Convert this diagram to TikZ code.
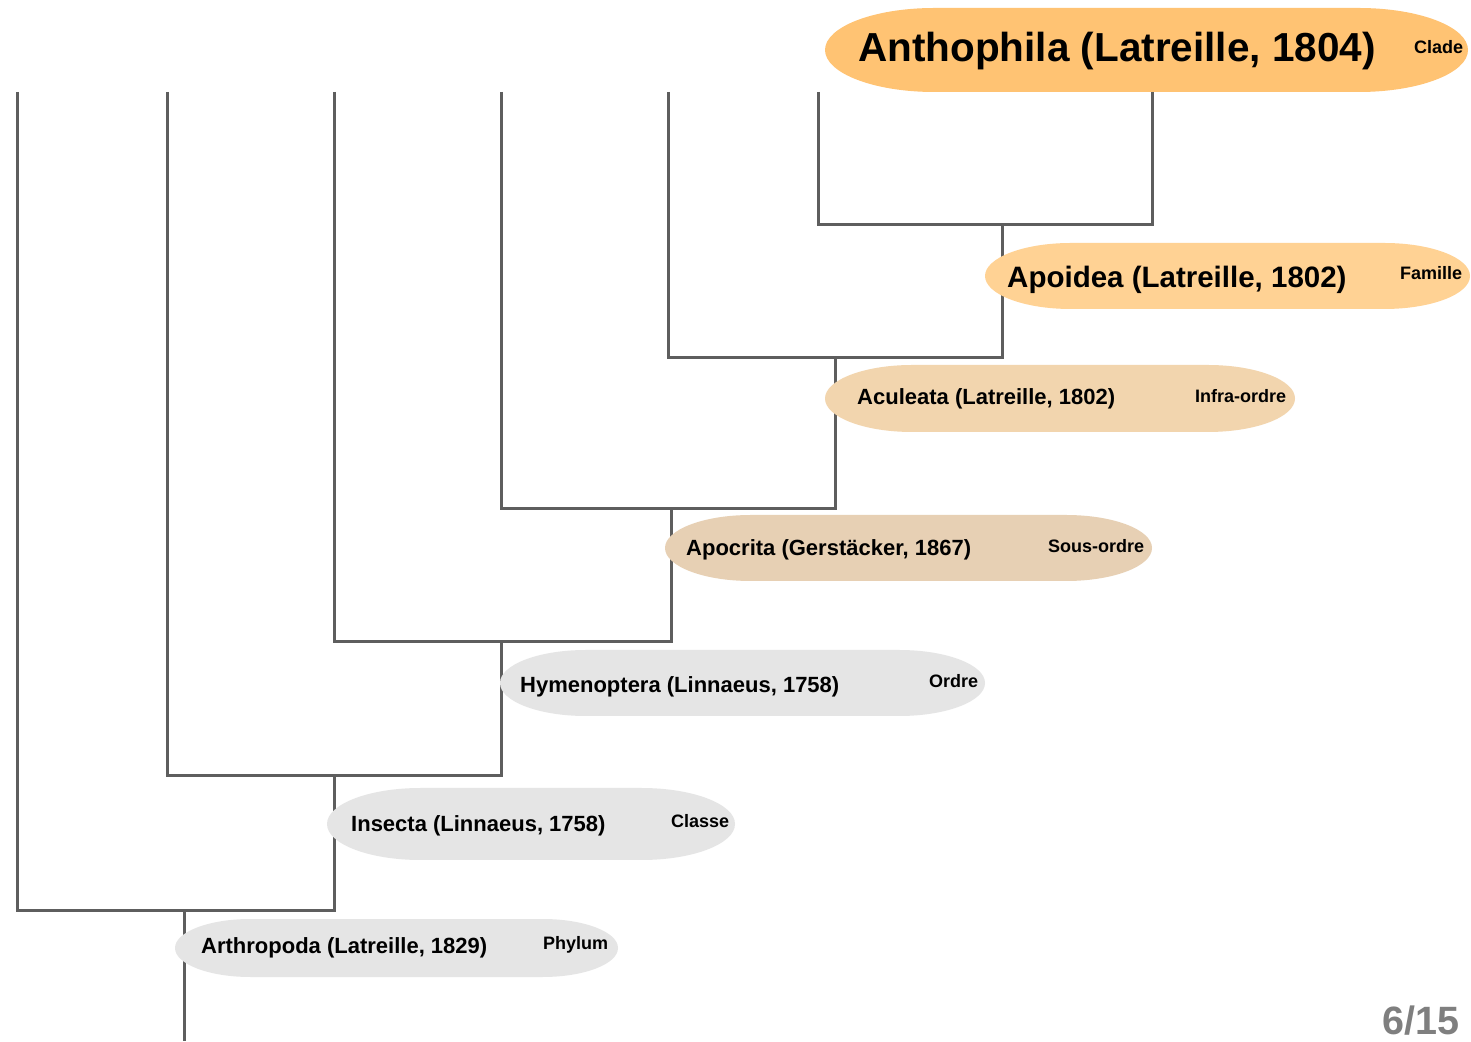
\documentclass[tikz,border=0pt]{standalone}
\usepackage{fontspec}
\setmainfont{Liberation Sans}
\usetikzlibrary{positioning}

\definecolor{cladeorange}{HTML}{FFC373}
\definecolor{familyorange}{HTML}{FFD294}
\definecolor{infrabeige}{HTML}{F2D5AE}
\definecolor{subbeige}{HTML}{E7D0B4}
\definecolor{rankgray}{HTML}{E5E5E5}
\definecolor{linegray}{HTML}{5E5E5E}
\definecolor{pagegray}{HTML}{7F7F7F}

\tikzset{
  branch/.style={draw=linegray, line width=3pt, line join=miter},
  taxon/.style={anchor=west, inner sep=0pt, font=\bfseries\fontsize{22}{26}\selectfont},
  rank/.style={anchor=west, inner sep=0pt, font=\bfseries\fontsize{18}{22}\selectfont},
}

% centre x, centre y, width, height, colour
\newcommand\pill[5]{%
  \fill[#5] (#1-#3/2+1.3*#4, #2+#4/2) -- (#1+#3/2-1.3*#4, #2+#4/2)
    arc[start angle=90, end angle=-90, x radius=1.3*#4, y radius=#4/2]
    -- (#1-#3/2+1.3*#4, #2-#4/2)
    arc[start angle=270, end angle=90, x radius=1.3*#4, y radius=#4/2] -- cycle;}

\begin{document}
\begin{tikzpicture}[x=1pt, y=1pt]
        \fill[white] (0,0) rectangle (1471,1041);
        \useasboundingbox (0,0) rectangle (1471,1041);

        % tips
        \coordinate (t1) at (17, 949);
        \coordinate (t2) at (167, 949);
        \coordinate (t3) at (334, 949);
        \coordinate (t4) at (501, 949);
        \coordinate (t5) at (668, 949);
        \coordinate (t6) at (818, 949);
        \coordinate (t7) at (1152, 949);
        % joints
        \coordinate (a1) at (818, 816);
        \coordinate (a2) at (1152, 816);
        \coordinate (a3) at (1002, 816);
        \coordinate (b1) at (668, 683);
        \coordinate (b2) at (1002, 683);
        \coordinate (b3) at (835, 683);
        \coordinate (c1) at (501, 532);
        \coordinate (c2) at (835, 532);
        \coordinate (c3) at (671, 532);
        \coordinate (d1) at (334, 399);
        \coordinate (d2) at (671, 399);
        \coordinate (d3) at (501, 399);
        \coordinate (e1) at (167, 265);
        \coordinate (e2) at (501, 265);
        \coordinate (e3) at (334, 265);
        \coordinate (f1) at (17, 131);
        \coordinate (f2) at (334, 131);
        \coordinate (f3) at (184, 131);
        \coordinate (root) at (184, 0);

        \path[branch]
        (t6) -- (a1) -- (a2) -- (t7)
        (t5) -- (b1) -- (b2) -- (a3)
        (t4) -- (c1) -- (c2) -- (b3)
        (t3) -- (d1) -- (d2) -- (c3)
        (t2) -- (e1) -- (e2) -- (d3)
        (t1) -- (f1) -- (f2) -- (e3)
        (f3) -- (root)
        ;

        \pill{1146.5}{991}{643}{84}{cladeorange}
        \pill{1227.5}{765}{485}{66}{familyorange}
        \pill{1060}{642.5}{470}{67}{infrabeige}
        \pill{908.5}{493}{487}{66}{subbeige}
        \pill{742.5}{358}{485}{66}{rankgray}
        \pill{531}{217}{408}{72}{rankgray}
        \pill{396.5}{93}{443}{58}{rankgray}

        \node[taxon, font=\bfseries\fontsize{40.5}{46}\selectfont] at (858, 990)(antho){Anthophila (Latreille, 1804)};
        \node[rank] at (1414, 994)(antho-rank){Clade};
        \node[taxon, font=\bfseries\fontsize{29.5}{34}\selectfont] at (1007, 761)(apoid){Apoidea (Latreille, 1802)};
        \node[rank] at (1400, 768)(apoid-rank){Famille};
        \node[taxon] at (857, 642.5)(acul){Aculeata (Latreille, 1802)};
        \node[rank] at (1195, 645)(acul-rank){Infra-ordre};
        \node[taxon] at (686, 491.5)(apoc){Apocrita (Gerstäcker, 1867)};
        \node[rank] at (1048, 495)(apoc-rank){Sous-ordre};
        \node[taxon] at (520, 354.5)(hymen){Hymenoptera (Linnaeus, 1758)};
        \node[rank] at (929, 360)(hymen-rank){Ordre};
        \node[taxon] at (351, 215.5)(insec){Insecta (Linnaeus, 1758)};
        \node[rank] at (671, 220)(insec-rank){Classe};
        \node[taxon] at (201, 93.5)(arthr){Arthropoda (Latreille, 1829)};
        \node[rank] at (543, 96)(arthr-rank){Phylum};

        \node[anchor=east, inner sep=0pt, text=pagegray, font=\bfseries\fontsize{39.5}{45}\selectfont] at (1460, 20)(page){6/15};
    \end{tikzpicture}
\end{document}
